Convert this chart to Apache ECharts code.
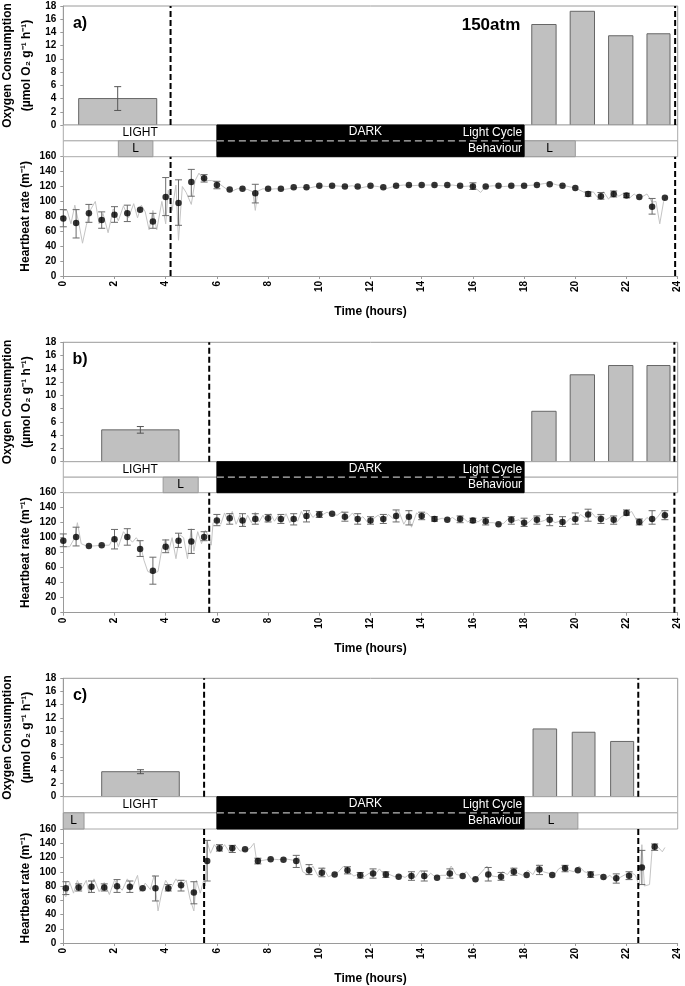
<!DOCTYPE html>
<html><head><meta charset="utf-8">
<script src="https://cdn.jsdelivr.net/npm/echarts@6/dist/echarts.min.js"></script>
<style>html,body{margin:0;padding:0;background:#fff}#c{width:685px;height:986px}</style>
</head><body><div id="c"></div>
<script>
// ---------------- DATA ----------------
// Oxygen consumption bars: [startHour, endHour, value, errLow, errHigh]
const oxyA = [[0.6,3.65,4.0,2.2,5.8],[18.3,19.25,15.2,null,null],[19.8,20.75,17.2,null,null],[21.3,22.25,13.5,null,null],[22.8,23.7,13.8,null,null]];
const oxyB = [[1.5,4.52,4.8,4.3,5.3],[18.3,19.25,7.6,null,null],[19.8,20.75,13.1,null,null],[21.3,22.25,14.5,null,null],[22.8,23.7,14.5,null,null]];
const oxyC = [[1.5,4.53,3.8,3.5,4.1],[18.35,19.27,10.3,null,null],[19.88,20.77,9.8,null,null],[21.38,22.28,8.4,null,null]];

// Dashed event lines (hours)
const dashA = [4.19, 23.9];
const dashB = [5.7, 23.87];
const dashC = [5.5, 22.46];

// Light cycle & behaviour
const lightPeriods = [[0,6],[18,24]];
const darkPeriod = [6,18];
const behavLA = [[2.15,3.5],[18,20]];
const behavLB = [[3.9,5.27]];
const behavLC = [[0,0.81],[18,20.1]];

// Heartbeat means: [hour, mean, errLow, errHigh]
const hrA = [[0,77,66,89],[0.5,71,51,89],[1,84,72,96],[1.5,75,64,86],[2,82,72,93],[2.5,84,73,95],[3,89,null,null],[3.5,73,64,84],[4,106,81,132],[4.5,98,68,129],[5,126,107,143],[5.5,131,126,136],[6,122,117,127],[6.5,116,null,null],[7,117,null,null],[7.5,111,98,123],[8,117,null,null],[8.5,117,null,null],[9,119,null,null],[9.5,119,null,null],[10,121,null,null],[10.5,121,null,null],[11,120,null,null],[11.5,120,null,null],[12,121,null,null],[12.5,119,null,null],[13,121,null,null],[13.5,122,null,null],[14,122,null,null],[14.5,122,null,null],[15,122,null,null],[15.5,121,null,null],[16,120,116,125],[16.5,120,null,null],[17,121,null,null],[17.5,121,null,null],[18,121,null,null],[18.5,122,null,null],[19,123,null,null],[19.5,121,null,null],[20,118,null,null],[20.5,110,107,113],[21,107,103,112],[21.5,110,106,114],[22,108,105,111],[22.5,106,null,null],[23,93,83,104],[23.5,105,null,null]];
const hrB = [[0,96,88,105],[0.5,101,89,114],[1,89,null,null],[1.5,90,null,null],[2,98,85,111],[2.5,101,90,112],[3,85,75,96],[3.5,56,38,74],[4,88,80,97],[4.5,96,87,106],[5,95,79,111],[5.5,101,96,108],[6,123,116,131],[6.5,126,118,132],[7,123,115,132],[7.5,125,118,132],[8,126,121,131],[8.5,125,119,131],[9,125,117,132],[9.5,129,121,136],[10,131,127,135],[10.5,132,null,null],[11,128,122,134],[11.5,125,118,132],[12,123,118,128],[12.5,125,119,131],[13,129,121,137],[13.5,128,117,136],[14,129,124,134],[14.5,125,122,128],[15,124,null,null],[15.5,125,120,129],[16,123,120,126],[16.5,122,117,127],[17,118,null,null],[17.5,124,118,128],[18,120,115,126],[18.5,124,118,129],[19,124,116,131],[19.5,121,115,128],[20,125,118,133],[20.5,131,122,138],[21,125,119,131],[21.5,124,118,129],[22,133,130,137],[22.5,121,117,125],[23,125,118,136],[23.5,130,124,136]];
const hrC = [[0.1,77,68,86],[0.6,78,73,83],[1.1,79,71,87],[1.6,78,73,83],[2.1,79.5,71,89],[2.6,79,71,87],[3.1,77,null,null],[3.6,77,59,94],[4.1,77,73,82],[4.6,81,73,88],[5.1,71,55,86],[5.62,115,87,144],[6.1,133,129,138],[6.6,133,127,137],[7.1,131.5,null,null],[7.6,115,111,119],[8.1,117.5,null,null],[8.6,117,null,null],[9.1,115,106,123],[9.6,102,96,110],[10.1,98.5,93,105],[10.6,96,null,null],[11.1,102,97,107],[11.6,95,91,99],[12.1,97.6,91,104],[12.6,96,92,100],[13.1,93,null,null],[13.6,94,88,100],[14.1,94,87,101],[14.6,91.5,null,null],[15.1,97.6,91,104],[15.6,94,null,null],[16.1,89.5,null,null],[16.6,96,87,106],[17.1,93,88,99],[17.6,100,95,105],[18.1,95.5,null,null],[18.6,103,96,109],[19.1,95.5,null,null],[19.6,105,100,109],[20.1,102,null,null],[20.6,96,92,100],[21.1,92.6,null,null],[21.6,91,84,97],[22.1,94.5,89,100],[22.6,106,82,130],[23.1,135,130,139]];

// Raw heartbeat traces: [hour, rate]
const traceA = [[0,88],[0.15,88],[0.3,70],[0.45,95],[0.6,72],[0.75,44],[0.9,68],[1.05,88],[1.25,100],[1.4,70],[1.55,84],[1.75,58],[1.95,90],[2.15,74],[2.35,94],[2.55,78],[2.75,97],[2.9,78],[3.05,95],[3.2,86],[3.35,62],[3.5,88],[3.65,62],[3.85,100],[4.0,70],[4.1,115],[4.25,88],[4.4,122],[4.5,48],[4.65,120],[4.8,112],[5.0,96],[5.15,128],[5.3,138],[5.45,130],[5.6,128],[5.8,128],[6.0,126],[6.2,121],[6.4,116],[6.6,114],[6.8,117],[7.0,117],[7.2,116],[7.4,113],[7.5,88],[7.6,114],[7.8,117],[8.0,116],[8.3,117],[8.6,116],[9.0,118],[9.3,119],[9.6,118],[10.0,121],[10.3,120],[10.6,121],[11.0,120],[11.3,121],[11.6,118],[12.0,121],[12.3,120],[12.6,117],[13.0,121],[13.3,122],[13.6,121],[14.0,122],[14.4,122],[14.8,121],[15.2,122],[15.6,120],[16.0,121],[16.3,112],[16.5,120],[16.8,121],[17.2,120],[17.6,121],[18.0,121],[18.4,122],[18.8,124],[19.0,125],[19.3,122],[19.6,121],[20.0,118],[20.3,113],[20.5,110],[20.7,113],[20.9,104],[21.1,113],[21.3,103],[21.5,113],[21.7,107],[21.9,111],[22.1,104],[22.3,110],[22.5,104],[22.8,110],[23.0,99],[23.15,100],[23.3,70],[23.45,100],[23.55,107]];
const traceB = [[0,88],[0.25,88],[0.45,100],[0.55,120],[0.7,92],[0.9,89],[1.2,89],[1.5,90],[1.8,90],[2.0,103],[2.15,88],[2.35,108],[2.5,102],[2.7,94],[2.85,100],[3.0,93],[3.15,70],[3.3,55],[3.5,52],[3.7,55],[3.85,85],[4.0,98],[4.1,80],[4.25,100],[4.4,72],[4.55,104],[4.7,100],[4.85,72],[5.0,112],[5.1,82],[5.25,108],[5.4,92],[5.55,110],[5.7,100],[5.78,90],[5.85,120],[6.0,125],[6.15,118],[6.3,133],[6.45,120],[6.6,135],[6.75,118],[6.9,130],[7.05,115],[7.2,130],[7.35,120],[7.5,134],[7.65,121],[7.8,130],[7.95,120],[8.1,132],[8.25,122],[8.4,130],[8.55,120],[8.7,132],[8.85,120],[9.0,128],[9.15,122],[9.3,135],[9.45,125],[9.6,135],[9.75,127],[9.9,132],[10.1,130],[10.3,134],[10.5,131],[10.7,130],[10.9,135],[11.1,126],[11.3,133],[11.5,122],[11.7,128],[11.9,120],[12.1,125],[12.3,130],[12.5,122],[12.7,131],[12.9,125],[13.1,136],[13.3,118],[13.5,130],[13.6,114],[13.8,133],[14.0,128],[14.2,133],[14.4,126],[14.6,124],[14.8,126],[15.0,123],[15.2,127],[15.4,122],[15.6,127],[15.8,121],[16.0,125],[16.2,121],[16.4,126],[16.6,120],[16.8,120],[17.0,118],[17.2,119],[17.4,126],[17.6,122],[17.8,124],[18.0,117],[18.2,121],[18.4,128],[18.6,121],[18.8,123],[19.0,128],[19.2,120],[19.4,122],[19.6,119],[19.8,126],[20.0,121],[20.2,131],[20.4,126],[20.6,135],[20.8,127],[21.0,131],[21.2,124],[21.4,128],[21.6,120],[21.8,128],[22.0,131],[22.2,135],[22.4,123],[22.6,119],[22.8,127],[23.0,121],[23.2,127],[23.4,136],[23.55,128]];
const traceC = [[0,70],[0.1,65],[0.25,85],[0.4,70],[0.55,88],[0.7,75],[0.9,88],[1.0,70],[1.2,90],[1.4,72],[1.6,85],[1.8,68],[2.0,88],[2.15,80],[2.3,74],[2.5,90],[2.7,78],[2.9,95],[3.0,72],[3.2,84],[3.4,75],[3.55,95],[3.7,45],[3.85,72],[4.0,88],[4.2,76],[4.4,90],[4.6,78],[4.8,88],[4.95,62],[5.1,45],[5.2,88],[5.35,70],[5.5,90],[5.55,80],[5.62,142],[5.75,126],[5.9,138],[6.1,128],[6.3,138],[6.5,127],[6.7,138],[6.9,129],[7.1,130],[7.3,133],[7.45,140],[7.55,116],[7.8,116],[8.1,118],[8.4,117],[8.7,118],[9.0,116],[9.2,120],[9.35,100],[9.55,96],[9.75,108],[9.95,94],[10.15,106],[10.35,93],[10.55,96],[10.75,100],[10.95,108],[11.15,100],[11.35,94],[11.55,97],[11.75,93],[11.95,98],[12.15,95],[12.35,104],[12.55,95],[12.75,96],[12.95,93],[13.15,95],[13.35,92],[13.55,97],[13.75,92],[13.95,102],[14.15,90],[14.35,98],[14.55,92],[14.75,95],[14.95,95],[15.15,108],[15.35,96],[15.55,95],[15.75,100],[15.95,90],[16.15,92],[16.35,100],[16.55,108],[16.75,94],[16.95,93],[17.15,100],[17.35,96],[17.55,106],[17.75,98],[17.95,95],[18.15,102],[18.35,96],[18.55,110],[18.75,100],[18.95,98],[19.15,94],[19.35,104],[19.55,108],[19.75,102],[19.95,100],[20.15,108],[20.35,100],[20.55,98],[20.75,95],[20.95,96],[21.15,90],[21.35,95],[21.55,88],[21.75,92],[21.95,96],[22.15,100],[22.35,95],[22.5,80],[22.6,138],[22.7,80],[22.9,82],[23.0,132],[23.15,138],[23.3,132],[23.4,128],[23.5,134]];

const panelLabels = ['a)','b)','c)'];
const pressureLabel = '150atm';
const oxyTitle1 = 'Oxygen Consumption';
const oxyTitle2 = '(\u00b5mol O\u2082 g\u207b\u00b9 h\u207b\u00b9)';
const hrTitle = 'Heartbeat rate (m\u207b\u00b9)';
const timeTitle = 'Time (hours)';

// ---------------- LAYOUT ----------------
const FONT = '"Liberation Sans", Arial, sans-serif';
const LEFT = 63.3, WIDTH = 614.4;
const layout = [
  {oxyTop:6, oxyH:119, stripH:31.7, hrH:119.3},
  {oxyTop:342.3, oxyH:119.4, stripH:31, hrH:120},
  {oxyTop:678.3, oxyH:118.4, stripH:32.3, hrH:118.2}
];
const panels = [
  {oxy:oxyA, dash:dashA, beh:behavLA, hr:hrA, trace:traceA},
  {oxy:oxyB, dash:dashB, beh:behavLB, hr:hrB, trace:traceB},
  {oxy:oxyC, dash:dashC, beh:behavLC, hr:hrC, trace:traceC}
];

const grids = [], xAxes = [], yAxes = [], series = [], graphics = [];
const axisGrey = '#9a9a9a';

function barRender(params, api) {
  const s = api.value(0), e = api.value(1), v = api.value(2), lo = api.value(3), hi = api.value(4);
  const p1 = api.coord([s, v]), p2 = api.coord([e, 0]);
  const ch = [{type:'rect', shape:{x:p1[0], y:p1[1], width:p2[0]-p1[0], height:p2[1]-p1[1]},
    style:{fill:'#c0c0c0', stroke:'#666', lineWidth:1}}];
  if (!isNaN(lo) && !isNaN(hi) && lo !== null) {
    const xm = (s + e) / 2;
    const a = api.coord([xm, lo]), b = api.coord([xm, hi]);
    const st = {stroke:'#555', lineWidth:1};
    ch.push({type:'line', shape:{x1:a[0], y1:a[1], x2:b[0], y2:b[1]}, style:st});
    ch.push({type:'line', shape:{x1:a[0]-3.5, y1:a[1], x2:a[0]+3.5, y2:a[1]}, style:st});
    ch.push({type:'line', shape:{x1:b[0]-3.5, y1:b[1], x2:b[0]+3.5, y2:b[1]}, style:st});
  }
  return {type:'group', children:ch};
}
function errRender(params, api) {
  const x = api.value(0), lo = api.value(2), hi = api.value(3);
  const a = api.coord([x, lo]), b = api.coord([x, hi]);
  const st = {stroke:'#6a6a6a', lineWidth:1};
  return {type:'group', children:[
    {type:'line', shape:{x1:a[0], y1:a[1], x2:b[0], y2:b[1]}, style:st},
    {type:'line', shape:{x1:a[0]-3.5, y1:a[1], x2:a[0]+3.5, y2:a[1]}, style:st},
    {type:'line', shape:{x1:b[0]-3.5, y1:b[1], x2:b[0]+3.5, y2:b[1]}, style:st}
  ]};
}
function dashRender(ymax) {
  return function(params, api) {
    const x = api.value(0);
    const a = api.coord([x, 0]), b = api.coord([x, ymax]);
    return {type:'line', shape:{x1:a[0], y1:a[1], x2:b[0], y2:b[1]},
      style:{stroke:'#000', lineWidth:2, lineDash:[6,3]}};
  };
}
function stripRender(cells) {
  return function(params, api) {
    const c = cells[params.dataIndex];
    const p1 = api.coord([c.s, c.top]), p2 = api.coord([c.e, c.bot]);
    const r = {x:p1[0], y:p1[1], width:p2[0]-p1[0], height:p2[1]-p1[1]};
    const ch = [];
    const txt = (h, yv, text, color, align) => {
      const p = api.coord([h, yv]);
      return {type:'text', x:p[0], y:p[1], style:{text:text, fill:color, fontSize:12, fontFamily:FONT,
        align:align || 'center', verticalAlign:'middle'}};
    };
    if (c.kind === 'row') {
      ch.push({type:'rect', shape:r, style:{fill:'#fff', stroke:'#aaa', lineWidth:1}});
      if (c.label) ch.push(txt((c.s + c.labelEnd) / 2, (c.top + c.bot) / 2, c.label, '#000'));
    } else if (c.kind === 'L') {
      ch.push({type:'rect', shape:r, style:{fill:'#c0c0c0', stroke:'#999', lineWidth:1}});
      ch.push(txt((c.s + c.e) / 2, 0.5, 'L', '#000'));
    } else if (c.kind === 'dark') {
      ch.push({type:'rect', shape:r, style:{fill:'#000', stroke:'#000', lineWidth:1}});
      const a = api.coord([c.s, 1]), b = api.coord([c.e, 1]);
      ch.push({type:'line', shape:{x1:a[0], y1:a[1], x2:b[0], y2:b[1]}, style:{stroke:'#bbb', lineWidth:1.2, lineDash:[7,4]}});
      ch.push(txt(11.8, 1.55, 'DARK', '#fff'));
      ch.push(txt(c.e - 0.08, 1.5, 'Light Cycle', '#fff', 'right'));
      ch.push(txt(c.e - 0.08, 0.5, 'Behaviour', '#fff', 'right'));
    }
    return {type:'group', children:ch};
  };
}

panels.forEach((p, i) => {
  const L = layout[i];
  const stripTop = L.oxyTop + L.oxyH, hrTop = stripTop + L.stripH;
  const gi = i * 3;
  grids.push({left:LEFT, width:WIDTH, top:L.oxyTop, height:L.oxyH, show:true, borderColor:axisGrey, borderWidth:1, backgroundColor:'transparent'});
  grids.push({left:LEFT, width:WIDTH, top:stripTop, height:L.stripH});
  grids.push({left:LEFT, width:WIDTH, top:hrTop, height:L.hrH});

  const yLab = {fontSize:10, fontWeight:'bold', color:'#000', fontFamily:FONT, margin:7};
  const line = {show:true, lineStyle:{color:axisGrey, width:1}};
  const tick = {show:true, length:3, lineStyle:{color:axisGrey}};
  // oxy
  xAxes.push({gridIndex:gi, type:'value', min:0, max:24, show:false});
  yAxes.push({gridIndex:gi, type:'value', min:0, max:18, interval:2, axisLine:line, axisTick:tick, axisLabel:yLab, splitLine:{show:false}});
  // strip
  xAxes.push({gridIndex:gi+1, type:'value', min:0, max:24, show:false});
  yAxes.push({gridIndex:gi+1, type:'value', min:0, max:2, show:false});
  // hr
  xAxes.push({gridIndex:gi+2, type:'value', min:0, max:24, interval:2, axisLine:line, axisTick:tick,
    axisLabel:{fontSize:10, fontWeight:'bold', color:'#000', fontFamily:FONT, rotate:90, margin:5, showMinLabel:true, showMaxLabel:true},
    splitLine:{show:false}, name:timeTitle, nameLocation:'middle', nameGap:30,
    nameTextStyle:{fontSize:12, fontWeight:'bold', color:'#000', fontFamily:FONT}});
  yAxes.push({gridIndex:gi+2, type:'value', min:0, max:160, interval:20, axisLine:line, axisTick:tick, axisLabel:yLab, splitLine:{show:false}});

  // oxygen bars
  series.push({type:'custom', xAxisIndex:gi, yAxisIndex:gi, renderItem:barRender, data:p.oxy, encode:{x:[0,1], y:2}, silent:true, z:2});
  series.push({type:'custom', xAxisIndex:gi, yAxisIndex:gi, renderItem:dashRender(18), data:p.dash.map(d => [d]), encode:{x:0}, silent:true, z:5});

  // strip cells
  const cells = [
    {kind:'row', s:0, e:24, top:2, bot:1, label:'LIGHT', labelEnd:lightPeriods[0][1]},
    {kind:'row', s:0, e:24, top:1, bot:0}
  ];
  p.beh.forEach(b => cells.push({kind:'L', s:b[0], e:b[1], top:1, bot:0}));
  cells.push({kind:'dark', s:darkPeriod[0], e:darkPeriod[1], top:2, bot:0});
  series.push({type:'custom', xAxisIndex:gi+1, yAxisIndex:gi+1, renderItem:stripRender(cells),
    data:cells.map(c => [c.s, c.e]), encode:{x:[0,1]}, silent:true, z:3});

  // heartbeat
  series.push({type:'line', xAxisIndex:gi+2, yAxisIndex:gi+2, data:p.trace, showSymbol:false, symbol:'none',
    lineStyle:{color:'#c4c4c4', width:1}, silent:true, z:1, animation:false});
  series.push({type:'custom', xAxisIndex:gi+2, yAxisIndex:gi+2, renderItem:errRender,
    data:p.hr.filter(d => d[2] !== null), encode:{x:0, y:[2,3]}, silent:true, z:2});
  series.push({type:'scatter', xAxisIndex:gi+2, yAxisIndex:gi+2, data:p.hr.map(d => [d[0], d[1]]),
    symbol:'circle', symbolSize:6.5, itemStyle:{color:'#000'}, silent:true, z:3});
  series.push({type:'custom', xAxisIndex:gi+2, yAxisIndex:gi+2, renderItem:dashRender(160), data:p.dash.map(d => [d]), encode:{x:0}, silent:true, z:5});

  // text
  const tStyle = (t, size) => ({text:t, fontSize:size, fontWeight:'bold', fontFamily:FONT, fill:'#000', align:'center', verticalAlign:'middle'});
  graphics.push({type:'text', x:80, y:L.oxyTop + 17.5, style:tStyle(panelLabels[i], 16)});
  graphics.push({type:'text', x:7.5, y:L.oxyTop + L.oxyH / 2, rotation:Math.PI/2, style:tStyle(oxyTitle1, 12)});
  graphics.push({type:'text', x:26.5, y:L.oxyTop + L.oxyH / 2, rotation:Math.PI/2, style:tStyle(oxyTitle2, 12)});
  graphics.push({type:'text', x:25.5, y:hrTop + L.hrH / 2, rotation:Math.PI/2, style:tStyle(hrTitle, 12)});
});
graphics.push({type:'text', x:491, y:25, style:{text:pressureLabel, fontSize:17, fontWeight:'bold', fontFamily:FONT, fill:'#000', align:'center', verticalAlign:'middle'}});

const chart = echarts.init(document.getElementById('c'), null, {renderer:'canvas'});
chart.setOption({
  animation:false,
  backgroundColor:'#fff',
  grid:grids, xAxis:xAxes, yAxis:yAxes, series:series, graphic:graphics
});
</script>
</body></html>
